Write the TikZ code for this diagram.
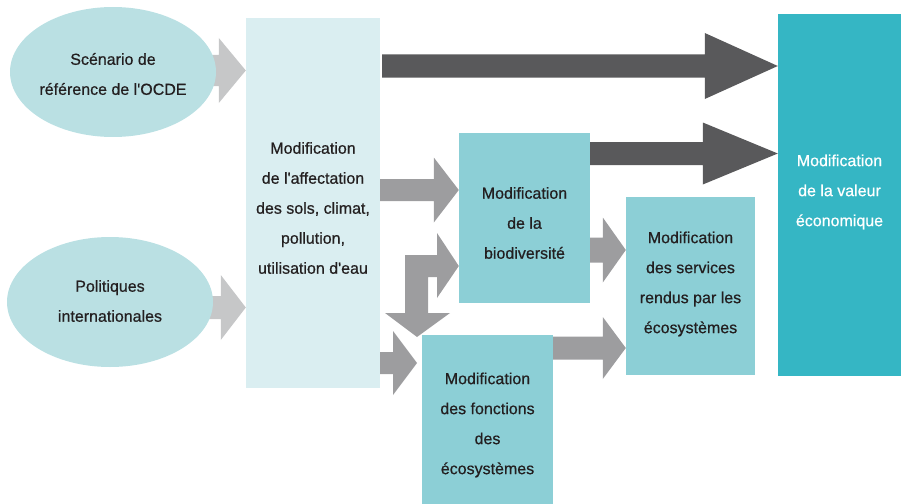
\documentclass[tikz,border=0pt]{standalone}
\usepackage{fontspec}
\setmainfont[FakeBold=0.6,AutoFakeBold=0.6]{Liberation Sans}
\usetikzlibrary{calc,backgrounds,shapes.geometric}
\definecolor{ellc}{HTML}{BAE0E3}
\definecolor{tallc}{HTML}{DAEEF1}
\definecolor{midc}{HTML}{8CCFD6}
\definecolor{valc}{HTML}{35B6C4}
\definecolor{darkc}{HTML}{59595B}
\definecolor{grayc}{HTML}{9D9D9F}
\definecolor{lgrayc}{HTML}{C6C7C8}
\definecolor{txtc}{HTML}{231F20}
\tikzset{
  every node/.style={font=\fontsize{16}{30}\selectfont, text=txtc, align=center, inner sep=0pt},
  ell/.style={ellipse, fill=ellc, minimum width=206pt, minimum height=130pt},
  tallbox/.style={rectangle, fill=tallc, minimum width=134pt, minimum height=370pt},
  midbox/.style={rectangle, fill=midc},
  valbox/.style={rectangle, fill=valc, minimum width=123pt, minimum height=362pt},
  wtext/.style={text=white},
}
% #1 colour, #2 start, #3 tip, #4 head length, #5 shaft half, #6 head half
\newcommand{\blockarrow}[6]{%
  \fill[#1] let \p1=(#2), \p2=(#3) in
    (\x1,\y2-#5pt) -- (\x2-#4pt,\y2-#5pt) -- (\x2-#4pt,\y2-#6pt) -- (\x2,\y2)
    -- (\x2-#4pt,\y2+#6pt) -- (\x2-#4pt,\y2+#5pt) -- (\x1,\y2+#5pt) -- cycle;}
\begin{document}
\begin{tikzpicture}[x=1pt,y=-1pt]
\useasboundingbox (0,0) rectangle (901,503);
\node[ell] (e1) at (113,72) {};
\node (e1t) at ($(e1.center)+(0,2)$) {Scénario de\\référence de l\textquotesingle OCDE};
\node[ell] (e2) at (110,302) {};
\node (e2t) at ($(e2.center)+(0,-1)$) {Politiques\\internationales};
\node[tallbox] (tall) at (313,203) {};
\node (tallt) at ($(tall.center)+(0,5)$) {Modification\\de l\textquotesingle affectation\\des sols, climat,\\pollution,\\utilisation d\textquotesingle eau};
\node[midbox, minimum width=131pt, minimum height=170pt] (bio) at (524.5,218) {};
\node (biot) at ($(bio.center)+(0,5)$) {Modification\\de la\\biodiversité};
\node[midbox, minimum width=129pt, minimum height=178pt] (serv) at (690.5,286) {};
\node (servt) at ($(serv.center)+(0,-2)$) {Modification\\des services\\rendus par les\\écosystèmes};
\node[midbox, minimum width=131pt, minimum height=178pt] (func) at (487.5,424) {};
\node (funct) at ($(func.center)+(0,1)$) {Modification\\des fonctions\\des\\écosystèmes};
\node[valbox] (val) at (839.5,195) {};
\node[wtext] (valt) at ($(val.center)+(0,-3)$) {Modification\\de la valeur\\économique};
\coordinate (d1) at (382,66);
\coordinate (bend) at (416.5,266);
\begin{scope}[on background layer]
\blockarrow{lgrayc}{e1.center}{tall.west |- 0,70.5}{27}{15.5}{32.5}
\blockarrow{lgrayc}{e2.center}{tall.west |- 0,307.5}{25}{11.5}{32.5}
\end{scope}
\blockarrow{darkc}{d1}{val.west |- 0,66}{73}{11.5}{33}
\blockarrow{darkc}{bio.east}{val.west |- 0,153.5}{75}{11.5}{31}
\blockarrow{grayc}{tall.east}{bio.west |- 0,190}{25}{11}{32.5}
\blockarrow{grayc}{tall.east}{417,363}{24}{11}{32}
\blockarrow{grayc}{bio.east}{serv.west |- 0,250}{23}{12.5}{32.5}
\blockarrow{grayc}{func.east}{serv.west |- 0,348}{23}{11.5}{31}
\fill[grayc] (bend) ++(-11.5,47) -- ++(-20,0) -- (417,337) -- (450,313) -- (428,313)
  -- (428,277) -- (437,277) -- (437,298) -- (bio.west |- 0,266) -- (437,233) -- (437,255)
  -- (405,255) -- cycle;
\end{tikzpicture}
\end{document}
